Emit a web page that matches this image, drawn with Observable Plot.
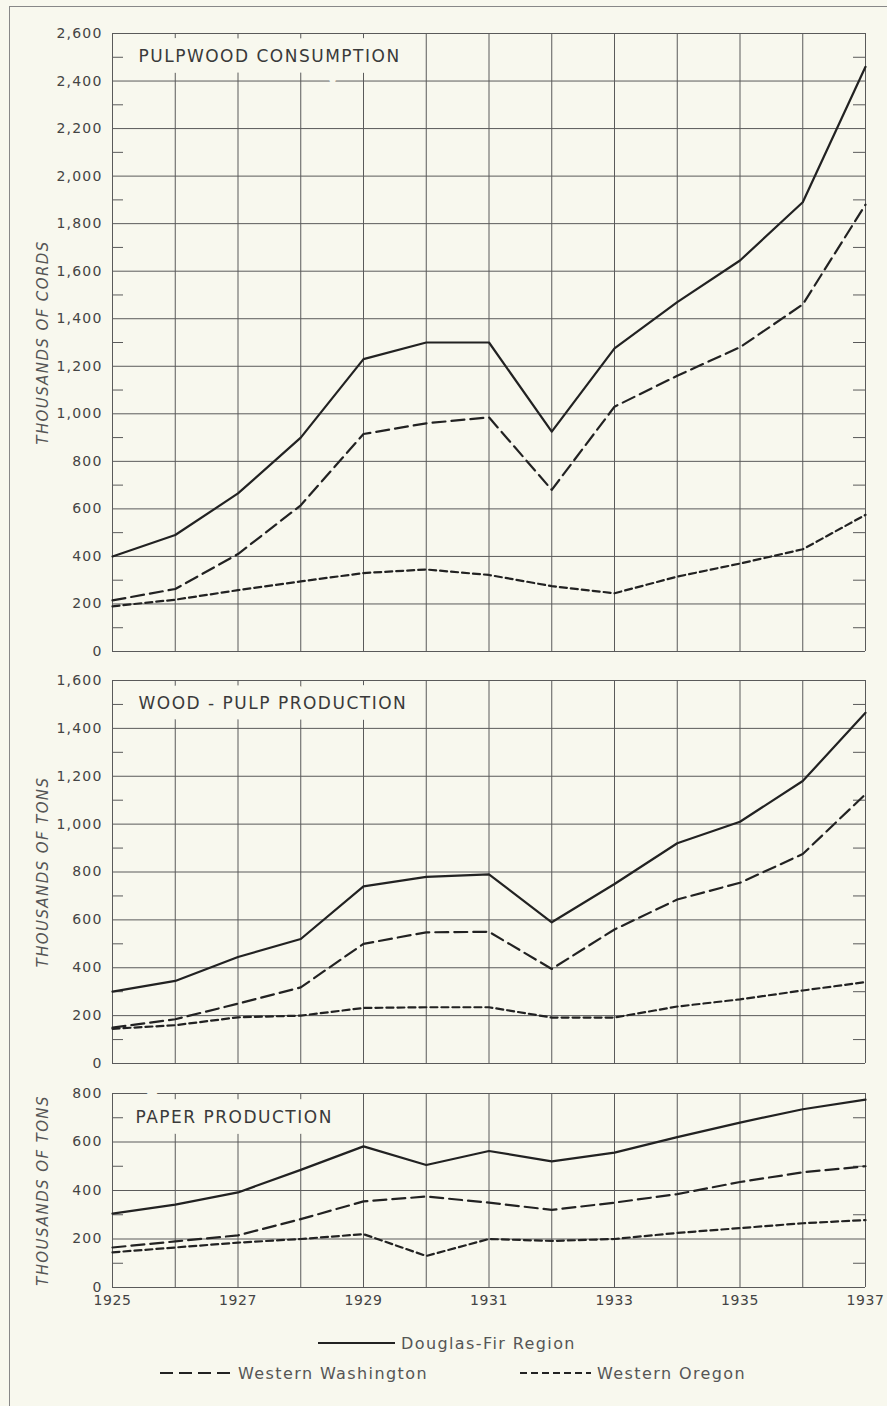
<!DOCTYPE html>
<html><head><meta charset="utf-8">
<script src="https://cdn.jsdelivr.net/npm/d3@7"></script>
<script src="https://cdn.jsdelivr.net/npm/@observablehq/plot@0.6"></script>
<style>
html,body{margin:0;padding:0;background:#f8f8ee;}
#page{position:relative;width:887px;height:1406px;overflow:hidden;font-family:"DejaVu Sans",sans-serif;}
#border{position:absolute;left:9px;top:6px;right:-2px;bottom:-2px;border-top:1px solid #888;border-left:1px solid #888;}
.panel{position:absolute;left:0;}
.panel svg{overflow:visible;}
.panel [aria-label="y-axis tick label"] text{letter-spacing:1.2px;}
.panel [aria-label="x-axis tick label"] text{letter-spacing:0.6px;}
.legitem{position:absolute;display:flex;align-items:center;color:#555;font-size:16px;letter-spacing:1.4px;white-space:nowrap;}
.legitem svg{margin-right:6px;}
</style></head>
<body><div id="page"><div id="border"></div>
<div id="p1" class="panel" style="top:0px"></div>
<div id="p2" class="panel" style="top:665px"></div>
<div id="p3" class="panel" style="top:1075px"></div>
<div id="legend"></div>
</div>
<script>
const years = [1925,1926,1927,1928,1929,1930,1931,1932,1933,1934,1935,1936,1937];
const xTickYears = [1925,1927,1929,1931,1933,1935,1937];
const seriesNames = ["Douglas-Fir Region","Western Washington","Western Oregon"];

const pulpDF = [400,490,665,900,1230,1300,1300,925,1275,1470,1645,1890,2460];
const pulpWW = [215,263,410,615,915,960,985,680,1030,1160,1280,1460,1880];
const pulpWO = [190,218,258,295,330,345,322,275,245,315,370,430,575];

const woodDF = [300,345,445,520,740,780,790,590,750,920,1010,1180,1465];
const woodWW = [150,185,250,318,500,548,550,395,560,685,755,875,1125];
const woodWO = [145,160,193,200,232,235,235,192,192,238,268,305,340];

const paperDF = [305,342,392,485,582,505,563,520,556,620,680,735,775];
const paperWW = [165,190,215,282,355,375,350,320,350,385,435,475,500];
const paperWO = [145,165,185,200,220,130,200,192,200,225,245,265,278];

const panelTitles = ["PULPWOOD CONSUMPTION","WOOD - PULP PRODUCTION","PAPER PRODUCTION"];
const yLabels = ["THOUSANDS OF CORDS","THOUSANDS OF TONS","THOUSANDS OF TONS"];
const yMaxes = [2600,1600,800];

const BG = "#f8f8ee";
const LINE = "#222";
const GRID = "#5a5a5a";
const dashes = [null, "13,6", "7,4"];

const W = 887, ML = 112, MR = 22, innerW = W - ML - MR;

function panel(el, {title, yLabel, yMax, values, height, marginTop, marginBottom, showX, titleDx, titleDy}) {
  const rows = [];
  seriesNames.forEach((s, i) => years.forEach((yr, j) => rows.push({series: s, year: yr, value: values[i][j]})));
  const major = d3.range(0, yMax + 1, 200);
  const minor = d3.range(100, yMax, 200);
  const marks = [
    Plot.gridX(years, {stroke: GRID, strokeOpacity: 1, strokeWidth: 1}),
    Plot.gridY(major, {stroke: GRID, strokeOpacity: 1, strokeWidth: 1}),
    Plot.tickY(minor, {y: d => d, insetRight: innerW - 11, stroke: GRID, strokeWidth: 1}),
    Plot.tickY(minor, {y: d => d, insetLeft: innerW - 12, stroke: GRID, strokeWidth: 1}),
    Plot.axisY(major, {tickSize: 0, tickPadding: 10, tickFormat: d3.format(","), label: null, fontSize: 14, fill: "#444"}),
    Plot.text([title], {frameAnchor: "top-left", dx: titleDx, dy: titleDy, textAnchor: "start", lineAnchor: "middle", fontSize: 17, fill: "#3a3a3a",
      stroke: BG, strokeWidth: 21, strokeLinejoin: "miter", paintOrder: "stroke"}),
    Plot.text([yLabel], {frameAnchor: "left", dx: -69, rotate: -90, textAnchor: "middle", lineAnchor: "middle", fontSize: 15, fontStyle: "italic", fill: "#555"}),
    ...seriesNames.map((s, i) => Plot.line(rows.filter(d => d.series === s), {
      x: "year", y: "value", stroke: LINE, strokeWidth: 2.2, strokeDasharray: dashes[i]
    }))
  ];
  if (showX) marks.push(Plot.axisX(xTickYears, {tickSize: 0, tickPadding: 8, tickFormat: d => String(d), fontSize: 14, fill: "#444", label: null}));
  const chart = Plot.plot({
    width: W, height, marginLeft: ML, marginRight: MR, marginTop, marginBottom,
    style: {background: "transparent", color: "#444", fontFamily: "DejaVu Sans, sans-serif", fontSize: "14px", overflow: "visible"},
    x: {domain: [1925, 1937], axis: showX ? undefined : null},
    y: {domain: [0, yMax]},
    marks
  });
  chart.querySelectorAll("text").forEach(t => {
    if (t.textContent === title) t.style.letterSpacing = "1.5px";
    if (t.textContent === yLabel) t.style.letterSpacing = "1.4px";
  });
  document.getElementById(el).appendChild(chart);
}

panel("p1", {title: panelTitles[0], yLabel: yLabels[0], yMax: yMaxes[0], values: [pulpDF, pulpWW, pulpWO],
  height: 665, marginTop: 33, marginBottom: 14, showX: false, titleDx: 26, titleDy: 23});
panel("p2", {title: panelTitles[1], yLabel: yLabels[1], yMax: yMaxes[1], values: [woodDF, woodWW, woodWO],
  height: 410, marginTop: 15, marginBottom: 12, showX: false, titleDx: 26, titleDy: 23});
panel("p3", {title: panelTitles[2], yLabel: yLabels[2], yMax: yMaxes[2], values: [paperDF, paperWW, paperWO],
  height: 240, marginTop: 18, marginBottom: 28, showX: true, titleDx: 23, titleDy: 24});

// legend
const legendPos = [{left: 318, top: 1343, w: 77}, {left: 160, top: 1373, w: 72}, {left: 520, top: 1373, w: 71}];
const leg = document.getElementById("legend");
seriesNames.forEach((s, i) => {
  const p = legendPos[i];
  const div = document.createElement("div");
  div.className = "legitem";
  div.style.left = p.left + "px";
  div.style.top = (p.top - 10) + "px";
  div.style.height = "20px";
  div.innerHTML = `<svg width="${p.w}" height="6"><line x1="0" y1="3" x2="${p.w}" y2="3" stroke="${LINE}" stroke-width="2.2" ${dashes[i] ? `stroke-dasharray="${dashes[i]}"` : ""}/></svg><span>${s}</span>`;
  leg.appendChild(div);
});
</script>
</body></html>
